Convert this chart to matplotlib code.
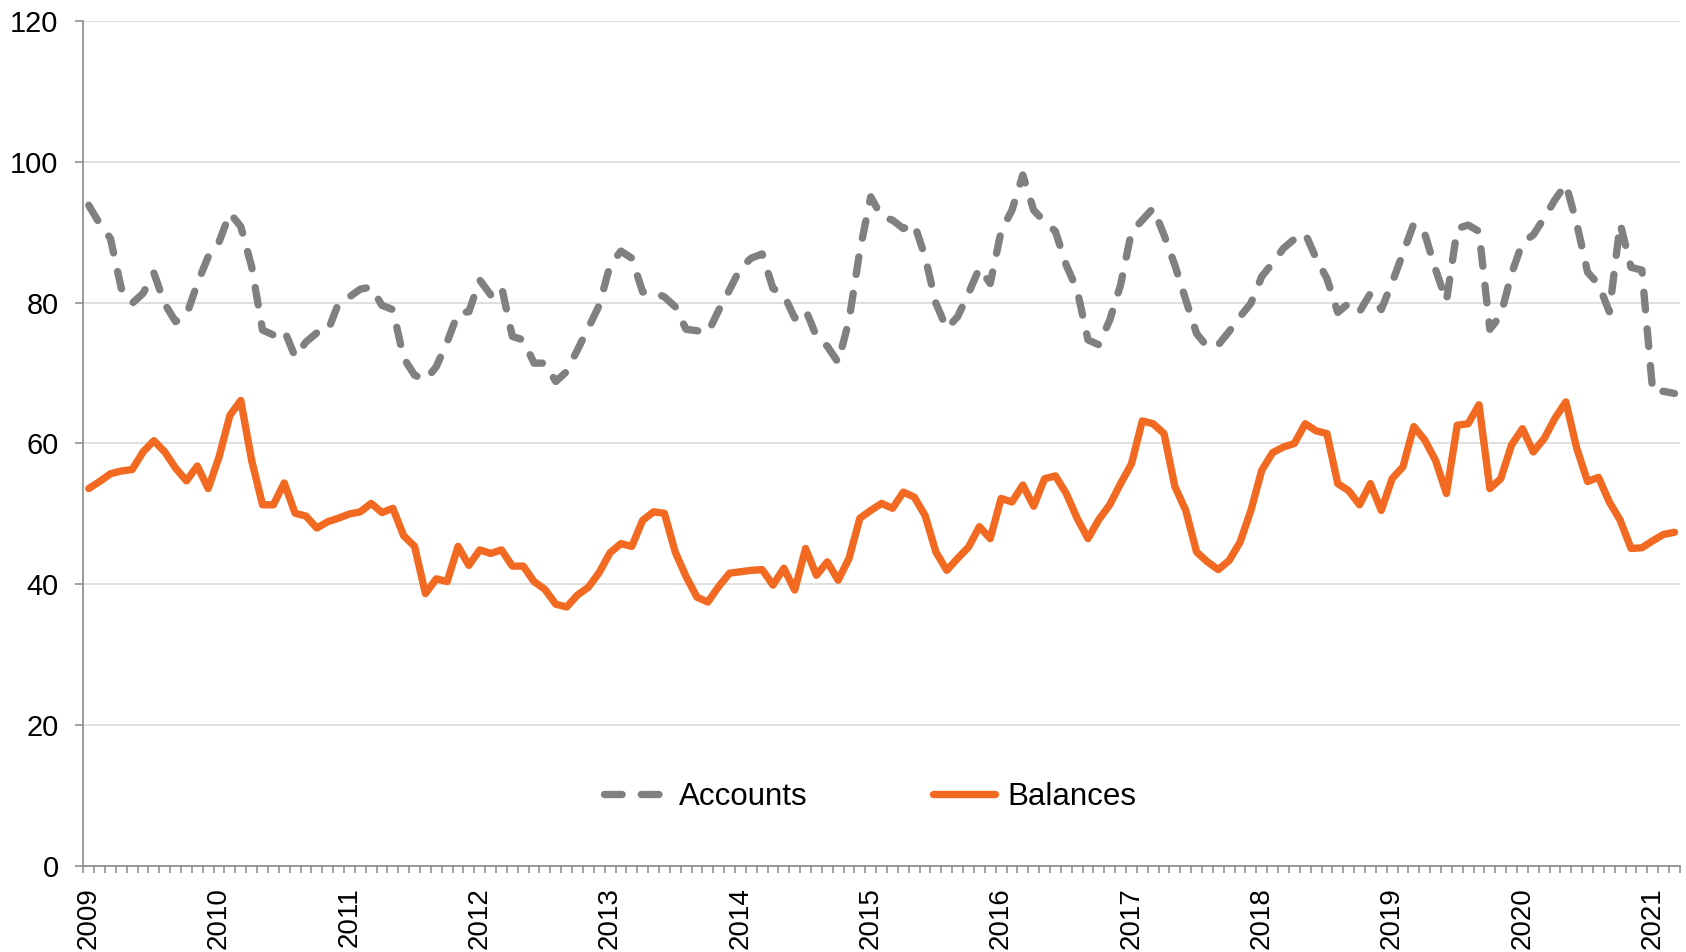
import numpy as np
import matplotlib
matplotlib.use("Agg")
import matplotlib.pyplot as plt

plt.rcParams['font.family'] = ['Liberation Sans', 'DejaVu Sans']

# monthly series, Jan 2009 .. Mar 2021
years = list(range(2009, 2022))

accounts = [
  93.8, 91.2, 89.1, 82.0, 79.9, 81.3, 84.2, 79.8, 77.3, 78.2, 82.7, 86.5,  # 2009
  88.6, 92.7, 90.8, 85.1, 76.1, 75.4, 76.1, 72.3, 74.4, 75.7, 75.9, 79.9,  # 2010
  80.8, 81.9, 82.2, 79.6, 79.0, 72.1, 69.7, 69.0, 70.9, 74.4, 78.5, 78.7,  # 2011
  83.2, 81.1, 82.3, 75.2, 74.7, 71.4, 71.4, 68.8, 70.2, 73.3, 76.4, 79.6,  # 2012
  85.3, 87.3, 86.3, 81.5, 81.5, 80.8, 79.4, 76.2, 76.0, 75.7, 78.9, 81.8,  # 2013
  84.9, 86.3, 86.9, 82.0, 81.1, 77.8, 79.0, 75.2, 73.8, 71.5, 77.5, 87.4,  # 2014
  95.0, 92.2, 91.7, 90.5, 91.2, 86.5, 79.9, 76.3, 78.0, 81.3, 84.9, 82.7,  # 2015
  90.1, 93.1, 98.1, 93.1, 91.5, 90.1, 85.3, 81.8, 74.7, 74.0, 77.5, 82.5,  # 2016
  90.0, 91.7, 93.4, 89.6, 85.3, 80.4, 75.6, 73.7, 74.0, 75.9, 78.0, 79.9,  # 2017
  83.7, 85.6, 87.7, 89.0, 89.8, 86.3, 83.4, 78.6, 79.9, 78.7, 81.3, 79.0,  # 2018
  82.8, 87.0, 91.2, 89.8, 84.7, 80.2, 90.5, 91.0, 90.1, 76.2, 78.2, 84.1,  # 2019
  88.5, 89.6, 92.0, 94.6, 96.8, 91.2, 84.3, 82.6, 78.7, 91.2, 85.0, 84.6,  # 2020
  67.3, 67.4, 67.1,                                                        # 2021
]

balances = [
  53.6, 54.6, 55.7, 56.1, 56.3, 58.8, 60.4, 58.8, 56.5, 54.7, 56.8, 53.6,  # 2009
  58.1, 64.0, 66.1, 57.6, 51.3, 51.3, 54.4, 50.1, 49.7, 48.0, 48.9, 49.4,  # 2010
  50.0, 50.3, 51.5, 50.2, 50.8, 46.9, 45.4, 38.7, 40.8, 40.4, 45.4, 42.7,  # 2011
  44.9, 44.4, 44.9, 42.6, 42.6, 40.4, 39.3, 37.2, 36.8, 38.5, 39.6, 41.7,  # 2012
  44.5, 45.8, 45.4, 49.1, 50.3, 50.1, 44.6, 41.1, 38.2, 37.5, 39.7, 41.6,  # 2013
  41.8, 42.0, 42.1, 39.9, 42.3, 39.2, 45.1, 41.3, 43.2, 40.6, 43.7, 49.4,  # 2014
  50.5, 51.5, 50.8, 53.1, 52.4, 49.8, 44.6, 42.0, 43.7, 45.3, 48.2, 46.5,  # 2015
  52.2, 51.7, 54.1, 51.1, 55.0, 55.4, 52.9, 49.4, 46.5, 49.2, 51.3, 54.3,  # 2016
  57.1, 63.2, 62.8, 61.4, 53.9, 50.5, 44.6, 43.2, 42.1, 43.4, 46.0, 50.5,  # 2017
  56.2, 58.7, 59.5, 60.0, 62.8, 61.8, 61.4, 54.3, 53.3, 51.3, 54.3, 50.5,  # 2018
  55.0, 56.7, 62.4, 60.5, 57.6, 52.9, 62.6, 62.8, 65.5, 53.6, 55.0, 59.8,  # 2019
  62.1, 58.8, 60.7, 63.6, 65.9, 59.3, 54.6, 55.2, 51.7, 49.1, 45.1, 45.2,  # 2020
  46.2, 47.1, 47.4,                                                        # 2021
]

grey = "#808080"
orange = "#F26A21"

fig = plt.figure(figsize=(16.86, 9.52), dpi=100)
ax = fig.add_axes([0.0494, 0.09, 0.9470, 0.8883])

x = np.arange(len(accounts))
ax.plot(x, accounts, color=grey, lw=5.3, dashes=(2.4, 2.6), dash_capstyle='round',
        dash_joinstyle='round', label="Accounts", zorder=3)
ax.plot(x, balances, color=orange, lw=5.3, solid_capstyle='round',
        solid_joinstyle='round', label="Balances", zorder=3)

ax.set_xlim(-0.5, len(accounts) - 0.5)
ax.set_ylim(0, 120)

# y axis
ax.set_yticks(np.arange(0, 121, 20))
ax.tick_params(axis='y', which='major', direction='out', length=5.8, width=1.1,
               color="#898989", labelsize=20.8, pad=12, labelcolor='black')
ax.grid(axis='y', color="#D9D9D9", lw=1.2, zorder=0)

# x axis: year labels at January, monthly tick marks between categories
ax.set_xticks([12 * k for k in range(len(years))])
ax.set_xticklabels([str(y) for y in years], rotation=90)
ax.set_xticks(np.arange(-0.5, len(accounts) + 0.5, 1), minor=True)
ax.tick_params(axis='x', which='major', length=0, labelsize=20, pad=15)
ax.tick_params(axis='x', which='minor', direction='out', length=5, width=1.1, color="#898989")

for s in ['top', 'right']:
  ax.spines[s].set_visible(False)
for s in ['left', 'bottom']:
  ax.spines[s].set_color("#898989")
  ax.spines[s].set_linewidth(1.2)

ax.legend(loc='center', bbox_to_anchor=(0.493, 0.082), ncol=2, frameon=False,
          fontsize=22.5, handlelength=2.0, handletextpad=0.4, columnspacing=4.0)

fig.savefig("out.png", dpi=100)
